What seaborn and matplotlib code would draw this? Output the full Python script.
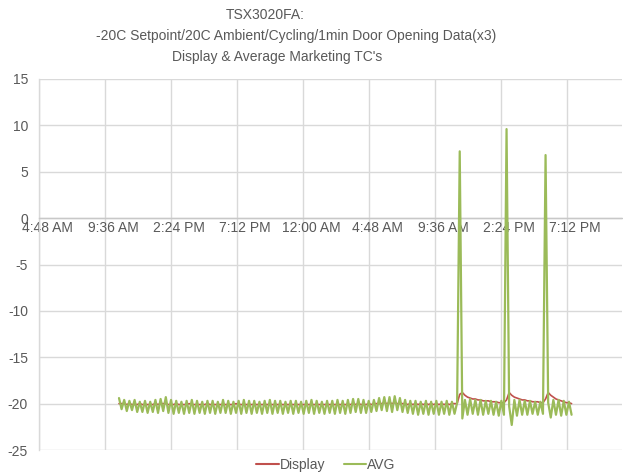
import numpy as np
import pandas as pd
import matplotlib
matplotlib.use("Agg")
import matplotlib.pyplot as plt
import matplotlib.transforms as mtransforms
import seaborn as sns

# Logger timing: first sample (days after midnight of day 1) and sample interval
log_start_days = 0.4424
log_interval_min = 11.35

# Display thermocouple reading (deg C)
display = [
    -20.0, -20.0, -20.0, -20.1, -20.0, -20.1, -20.1, -20.1, -20.0, -20.1,
    -20.1, -20.1, -20.1, -20.1, -20.0, -20.1, -20.0, -20.0, -20.0, -20.1,
    -20.1, -20.1, -20.0, -20.1, -20.1, -20.1, -20.1, -20.0, -20.1, -20.1,
    -20.1, -20.1, -20.1, -20.1, -20.0, -20.1, -20.1, -20.1, -20.1, -20.1,
    -20.1, -20.1, -20.1, -20.1, -20.1, -20.0, -20.1, -20.1, -20.1, -20.1,
    -20.1, -20.1, -20.1, -20.1, -20.1, -20.1, -20.1, -20.1, -20.1, -20.1,
    -20.1, -20.1, -20.1, -20.1, -20.1, -20.1, -20.1, -20.1, -20.1, -20.1,
    -20.1, -20.1, -20.1, -20.1, -20.1, -20.1, -20.1, -20.1, -20.1, -20.1,
    -20.1, -20.1, -20.1, -20.1, -20.1, -20.1, -20.1, -20.1, -20.1, -20.1,
    -20.0, -20.1, -20.0, -20.1, -20.1, -20.1, -20.0, -20.1, -20.0, -20.0,
    -20.0, -20.0, -19.9, -20.0, -19.9, -20.0, -19.9, -20.0, -20.0, -20.0,
    -20.0, -20.1, -20.0, -20.1, -20.0, -20.1, -20.0, -20.1, -20.0, -20.1,
    -20.0, -20.1, -20.0, -20.1, -20.0, -20.1, -20.0, -20.1, -20.0, -20.0,
    -20.0, -19.0, -18.8, -19.1, -19.3, -19.4, -19.5, -19.5, -19.6, -19.6,
    -19.7, -19.7, -19.7, -19.8, -19.8, -19.8, -19.9, -19.9, -19.9, -19.6,
    -18.8, -19.1, -19.3, -19.4, -19.5, -19.6, -19.6, -19.7, -19.7, -19.8,
    -19.8, -19.8, -19.9, -19.9, -19.5, -18.8, -19.1, -19.3, -19.5, -19.6,
    -19.7, -19.8, -19.9, -19.9, -20.0,
]

# Average of the marketing thermocouples (deg C)
avg = [
    -19.4, -20.6, -19.6, -20.8, -19.7, -20.7, -19.6, -20.9, -19.8, -20.9,
    -19.7, -21.0, -19.8, -20.9, -19.6, -21.0, -19.5, -20.8, -19.3, -21.0,
    -19.6, -21.1, -19.7, -21.0, -19.8, -21.1, -19.7, -21.0, -19.6, -21.1,
    -19.7, -21.0, -19.8, -21.1, -19.7, -21.0, -19.7, -21.1, -19.8, -21.0,
    -19.6, -21.0, -19.7, -21.1, -19.8, -21.0, -19.7, -21.1, -19.6, -21.0,
    -19.7, -21.1, -19.7, -21.0, -19.8, -21.1, -19.7, -21.0, -19.6, -21.1,
    -19.7, -21.0, -19.7, -21.1, -19.8, -21.0, -19.7, -21.1, -19.7, -21.0,
    -19.8, -21.1, -19.7, -21.0, -19.6, -21.1, -19.7, -21.0, -19.8, -21.1,
    -19.7, -21.0, -19.7, -21.1, -19.6, -21.0, -19.7, -21.1, -19.6, -21.0,
    -19.5, -20.9, -19.5, -21.0, -19.6, -21.0, -19.7, -20.9, -19.6, -20.8,
    -19.4, -20.7, -19.3, -20.8, -19.3, -20.9, -19.2, -20.7, -19.4, -20.9,
    -19.6, -21.0, -19.7, -21.1, -19.7, -21.2, -19.8, -21.1, -19.7, -21.2,
    -19.8, -21.1, -19.7, -21.2, -19.8, -21.1, -19.7, -21.2, -19.8, -21.1,
    -19.9, 7.2, -21.6, -19.6, -21.2, -19.5, -21.1, -19.6, -21.2, -19.6,
    -21.2, -19.7, -21.1, -19.7, -21.2, -19.8, -21.3, -19.7, -21.2, 9.6,
    -20.3, -22.3, -19.6, -21.3, -19.6, -21.2, -19.7, -21.2, -19.7, -21.1,
    -19.8, -21.2, -19.8, -21.1, 6.8, -19.9, -21.5, -19.6, -21.2, -19.6,
    -21.3, -19.7, -21.2, -19.8, -21.2,
]

series_names = ["Display", "AVG"]
series_colors = ["#C0504D", "#9BBB59"]

# Time axis: ticks every 4.8 h starting at 4:48 AM on day 1
x_tick_days = [0.2, 0.4, 0.6, 0.8, 1.0, 1.2, 1.4, 1.6, 1.8]
x_tick_labels = ["4:48 AM", "9:36 AM", "2:24 PM", "7:12 PM", "12:00 AM",
                 "4:48 AM", "9:36 AM", "2:24 PM", "7:12 PM"]
y_ticks = [15, 10, 5, 0, -5, -10, -15, -20, -25]

title_lines = [
    "TSX3020FA:",
    "-20C Setpoint/20C Ambient/Cycling/1min Door Opening Data(x3)",
    "Display & Average Marketing TC's",
]

# Long-form table for seaborn
t_days = log_start_days + np.arange(len(avg)) * log_interval_min / 1440.0
df = pd.concat([
    pd.DataFrame({"time": t_days, "temp": display, "series": "Display"}),
    pd.DataFrame({"time": t_days, "temp": avg, "series": "AVG"}),
], ignore_index=True)

sns.set_theme(style="white")
plt.rcParams["font.family"] = ["Liberation Sans", "DejaVu Sans"]
text_color = "#595959"
grid_color = "#D9D9D9"

fig = plt.figure(figsize=(6.23, 4.73), dpi=100)
ax = fig.add_axes([39 / 623, 1 - 450 / 473, 583 / 623, (450 - 79) / 473])

sns.lineplot(data=df, x="time", y="temp", hue="series", hue_order=series_names,
             palette=series_colors, ax=ax, legend=False, estimator=None,
             sort=False)
for line, lw in zip(ax.get_lines(), [1.2, 1.6]):
    line.set_linewidth(lw)
ax.get_lines()[1].set_zorder(3)
ax.get_lines()[0].set_zorder(2)

ax.set_xlim(0.2, 0.2 + 583 / 330)
ax.set_ylim(-25, 15)
ax.set_xticks(x_tick_days)
ax.set_xticklabels(x_tick_labels)
ax.set_yticks(y_ticks)
ax.set_yticklabels([str(v) for v in y_ticks])
ax.set_xlabel("")
ax.set_ylabel("")

ax.grid(True, color=grid_color, linewidth=1.0)
ax.set_axisbelow(True)
for side in ["top", "right"]:
    ax.spines[side].set_visible(False)
ax.spines["left"].set_color(grid_color)
ax.spines["left"].set_linewidth(1.0)
ax.spines["bottom"].set_position(("data", 0))
ax.spines["bottom"].set_color("#C8C8C8")
ax.spines["bottom"].set_linewidth(1.0)
ax.tick_params(axis="both", length=0, labelsize=10, colors=text_color)
ax.tick_params(axis="y", pad=8)
ax.tick_params(axis="x", pad=2)

# shift the x tick labels slightly right of their gridlines
offset = mtransforms.ScaledTranslation(8 / 100, 0, fig.dpi_scale_trans)
for lbl in ax.get_xticklabels():
    lbl.set_transform(lbl.get_transform() + offset)
    lbl.set_zorder(4)

# three-line title
for txt, xc, yc in zip(title_lines, [265, 296, 277], [15, 36, 57]):
    fig.text(xc / 623, 1 - yc / 473, txt, ha="center", va="center",
             fontsize=10, color=text_color)

handles = [plt.Line2D([], [], color=c, linewidth=1.5) for c in series_colors]
fig.legend(handles, series_names, loc="center", bbox_to_anchor=(326 / 623, 1 - 465 / 473),
           ncol=2, frameon=False, fontsize=10, labelcolor=text_color,
           handlelength=1.6, handletextpad=0.1, columnspacing=1.3)

fig.savefig("out.png", dpi=100)
